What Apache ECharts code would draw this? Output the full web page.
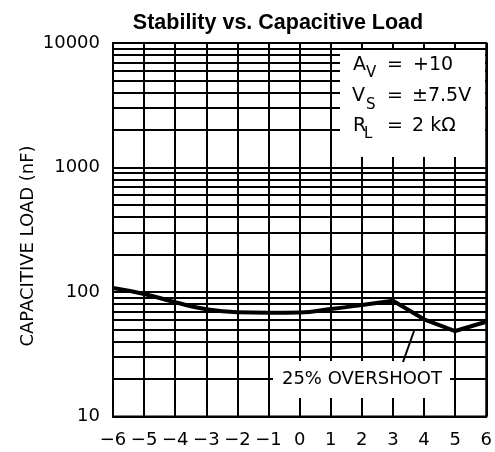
<!DOCTYPE html>
<html>
<head>
<meta charset="utf-8">
<script src="https://cdn.jsdelivr.net/npm/echarts@6/dist/echarts.min.js"></script>
<style>
html,body{margin:0;padding:0;background:#fff;}
#c{width:495px;height:452px;}
</style>
</head>
<body>
<div id="c"></div>
<script>
// Data
var gainX = [-6, -5, -4, -3, -2, -1, 0, 1, 2, 3];
var capLoadA = [107.7, 96.4, 82.7, 72.6, 68.7, 68.2, 68.5, 73, 78.6, 85.1];
var gainX2 = [3, 4, 5, 6];
var capLoadB = [85.1, 60.4, 48.6, 57.7];
var xTicks = [-6, -5, -4, -3, -2, -1, 0, 1, 2, 3, 4, 5, 6];
var yMajor = [10, 100, 1000, 10000];
var yMinor = [20, 30, 40, 50, 60, 70, 80, 90, 200, 300, 400, 500, 600, 700, 800, 900,
              2000, 3000, 4000, 5000, 6000, 7000, 8000, 9000];
var titleText = 'Stability vs. Capacitive Load';
var yName = 'CAPACITIVE LOAD (nF)';
var noteText = '25% OVERSHOOT';

var FONT = '"DejaVu Sans ExtraLight", "DejaVu Sans", sans-serif';
var chart = echarts.init(document.getElementById('c'), null, {renderer: 'canvas'});

function pairs(xs, ys) { return xs.map(function (x, i) { return [x, ys[i]]; }); }

function txt(x, y, text, size, align, extra) {
  var o = {
    type: 'text', x: x, y: y, z: 110,
    style: {
      text: text, fill: '#000',
      font: (extra && extra.weight ? extra.weight + ' ' : '') + size + 'px ' + (extra && extra.family ? extra.family : FONT),
      align: align || 'left', textAlign: align || 'left',
      verticalAlign: 'middle', textVerticalAlign: 'middle'
    }
  };
  if (extra && extra.rotation) o.rotation = extra.rotation;
  return o;
}

var option = {
  animation: false,
  backgroundColor: '#fff',
  grid: {left: 113, right: 6, top: 43, bottom: 35.5, show: true, borderColor: '#000', borderWidth: 2},
  xAxis: {
    type: 'value', min: -6, max: 6, interval: 1,
    axisLine: {show: true, lineStyle: {color: '#000', width: 2}},
    axisTick: {show: false},
    splitLine: {show: true, lineStyle: {color: '#000', width: 2}},
    axisLabel: {
      color: '#000', fontSize: 18, fontFamily: FONT, margin: 15,
      formatter: function (v) { return String(v).replace('-', '\u2212'); }
    }
  },
  yAxis: {
    type: 'log', logBase: 10, min: 10, max: 10000,
    axisLine: {show: true, lineStyle: {color: '#000', width: 2}},
    axisTick: {show: false},
    splitLine: {show: true, lineStyle: {color: '#000', width: 2}},
    axisLabel: {
      color: '#000', fontSize: 18, fontFamily: FONT, margin: 13,
      formatter: function (v) { return yMajor.indexOf(Math.round(v)) >= 0 ? String(Math.round(v)) : ''; }
    }
  },
  series: [
    {
      type: 'line', data: pairs(gainX, capLoadA), smooth: 0.5, showSymbol: false, symbol: 'none',
      lineStyle: {color: '#000', width: 4}, z: 5,
      markLine: {
        silent: true, symbol: ['none', 'none'], label: {show: false}, animation: false,
        lineStyle: {color: '#000', width: 2, type: 'solid'},
        data: yMinor.map(function (v) { return {yAxis: v}; })
      }
    },
    {
      type: 'line', data: pairs(gainX2, capLoadB), smooth: false, showSymbol: false, symbol: 'none',
      lineStyle: {color: '#000', width: 4}, z: 5
    }
  ]
};
chart.setOption(option);

var graphics = [
  // white boxes
  {type: 'rect', z: 100, shape: {x: 340, y: 50, width: 145, height: 107}, style: {fill: '#fff'}},
  {type: 'rect', z: 100, shape: {x: 273, y: 361, width: 177, height: 37}, style: {fill: '#fff'}},
  // leader line
  {type: 'line', z: 110, shape: {x1: 403, y1: 362, x2: 414, y2: 331}, style: {stroke: '#000', lineWidth: 2}},
  txt(278, 23, titleText, 21.5, 'center', {weight: 'bold', family: '"Liberation Sans", Arial, sans-serif'}),
  txt(28.5, 246, yName, 18, 'center', {rotation: Math.PI / 2}),
  txt(362, 379, noteText, 18, 'center'),
  txt(353, 65, 'A', 19, 'left'), txt(366, 73, 'V', 15, 'left'),
  txt(395, 65, '=', 19, 'center'), txt(413, 65, '+10', 19, 'left'),
  txt(352, 96, 'V', 19, 'left'), txt(366, 105, 'S', 15, 'left'),
  txt(395, 96, '=', 19, 'center'), txt(412, 96, '\u00b17.5V', 19, 'left'),
  txt(353, 126, 'R', 19, 'left'), txt(364, 134, 'L', 15, 'left'),
  txt(395, 126, '=', 19, 'center'), txt(412, 126, '2 k\u03a9', 19, 'left')
];
chart.setOption({graphic: {elements: graphics}});
</script>
</body>
</html>
